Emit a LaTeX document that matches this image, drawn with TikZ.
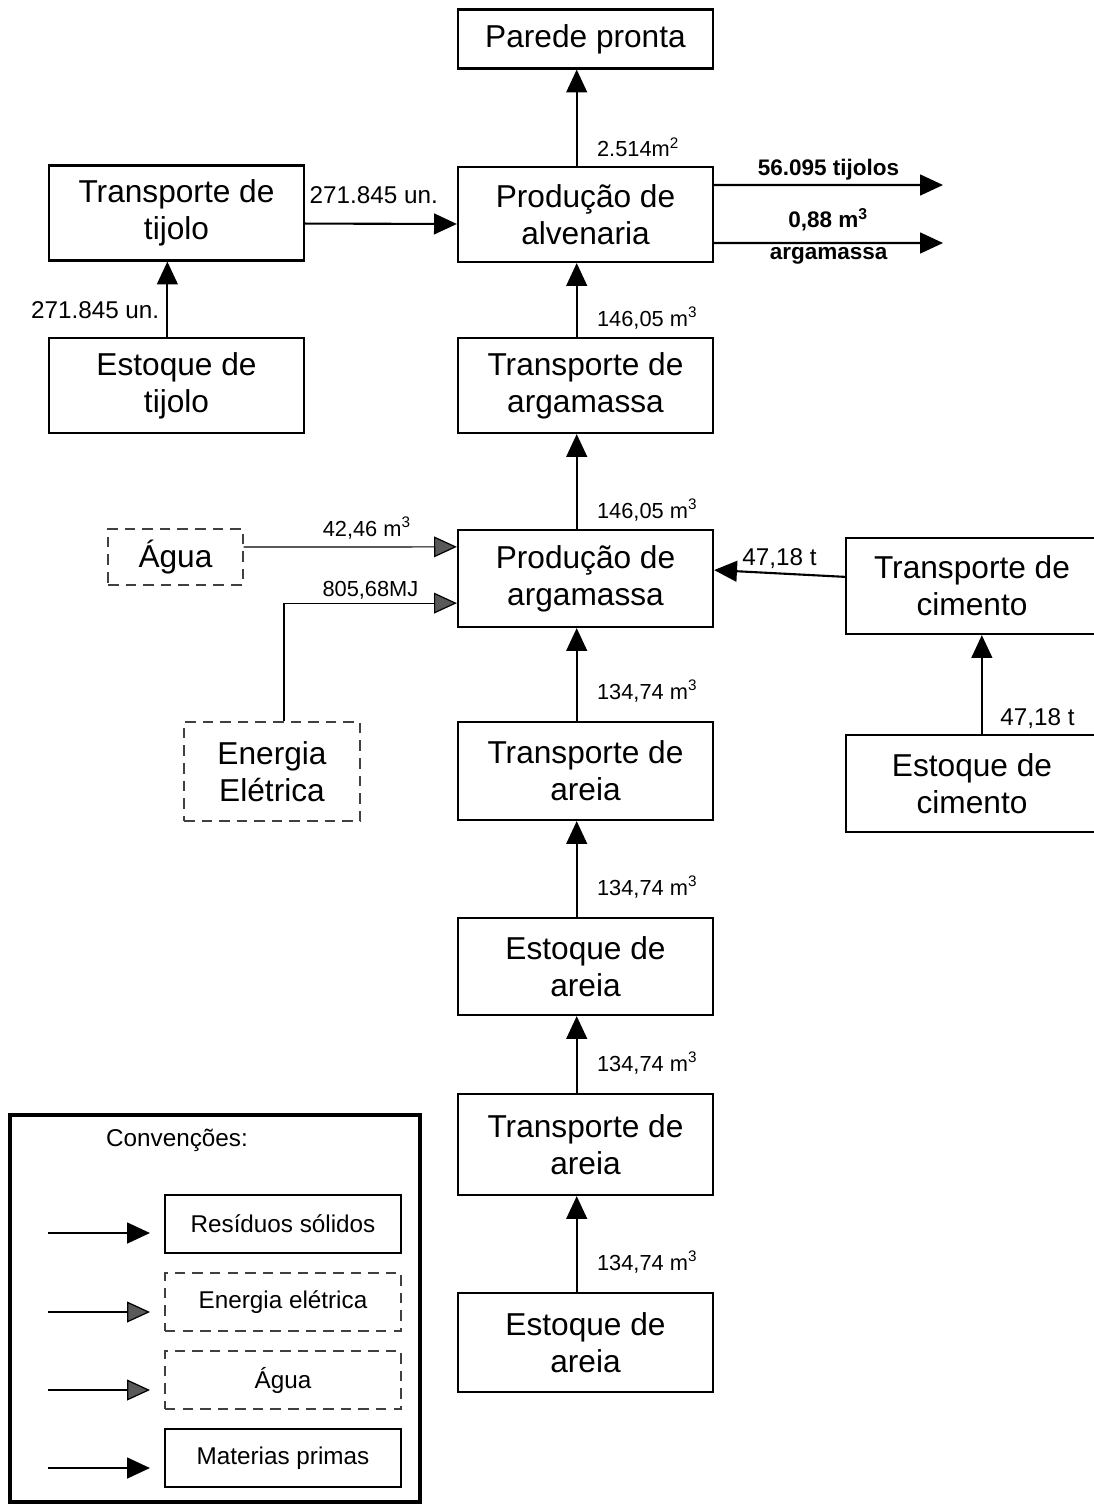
\documentclass[tikz,border=0pt]{standalone}
\usepackage{fontspec}
\setmainfont{Liberation Sans}
\usetikzlibrary{arrows.meta}

\begin{document}
\begin{tikzpicture}[x=0.01cm,y=-0.01cm,
	caixa/.style={draw,line width=0.6pt,minimum width=2.55cm,minimum height=0.95cm,inner sep=0pt,align=center,font=\fontsize{9}{10.6}\selectfont},
	tracej/.style={draw=black!75,densely dashed,line width=0.35pt},
	legcaixa/.style={draw,line width=0.6pt,minimum width=2.36cm,minimum height=0.58cm,inner sep=0pt,font=\fontsize{6.9}{8}\selectfont},
	fluxo/.style={line width=0.6pt,-{Triangle[length=6.5pt,width=5.9pt]}},
	fluxoleve/.style={line width=0.35pt,-{Triangle[length=6.5pt,width=5.9pt,fill=black!65]}},
	rotulo/.style={font=\fontsize{6.2}{7}\selectfont,inner sep=1pt},
	rotmaior/.style={font=\fontsize{6.9}{8}\selectfont,inner sep=1pt},
	rotnegrito/.style={font=\fontsize{6.4}{7}\selectfont\bfseries,inner sep=1pt}]
	\useasboundingbox (0,0) rectangle (1093,1506);
	\node[caixa,name=parede,minimum height=0.59cm] at (585.5,39) {Parede pronta};
	\node[caixa,name=trtij] at (176.5,213) {Transporte de\\tijolo};
	\node[caixa,name=alv] at (585.5,214.5) {Produção de\\alvenaria};
	\node[caixa,name=esttij] at (176.5,385.5) {Estoque de\\tijolo};
	\node[caixa,name=trarg] at (585.5,385.5) {Transporte de\\argamassa};
	\node[caixa,tracej,name=agua,minimum width=1.35cm,minimum height=0.56cm] at (175.5,557) {Água};
	\node[caixa,name=parg,minimum height=0.97cm] at (585.5,578.5) {Produção de\\argamassa};
	\node[caixa,name=trcim,minimum width=2.52cm,minimum height=0.96cm] at (972,586) {Transporte de\\cimento};
	\node[caixa,tracej,name=ener,minimum width=1.76cm,minimum height=0.99cm] at (272,771.5) {Energia\\Elétrica};
	\node[caixa,name=ta1,minimum height=0.98cm] at (585.5,771) {Transporte de\\areia};
	\node[caixa,name=ecim,minimum width=2.52cm,minimum height=0.97cm] at (972,783.5) {Estoque de\\cimento};
	\node[caixa,name=ea1,minimum height=0.97cm] at (585.5,966.5) {Estoque de\\areia};
	\node[caixa,name=ta2,minimum height=1.01cm] at (585.5,1144.5) {Transporte de\\areia};
	\node[caixa,name=ea2,minimum height=0.99cm] at (585.5,1342.5) {Estoque de\\areia};
	\coordinate (saida1) at (943,185);
	\coordinate (saida2) at (943,243);

	\draw[fluxo] ([xshift=-2.6pt]esttij.north) -- node[rotmaior,at start,anchor=south east,xshift=-1pt,yshift=4pt]{271.845 un.} ([xshift=-2.6pt]trtij.south);
	\draw[fluxo] ([yshift=-3pt]trtij.east) -- node[rotmaior,at start,anchor=south west,yshift=4.3pt]{271.845 un.} ([yshift=-2.7pt]alv.west);
	\draw[fluxo] ([xshift=-2.5pt]alv.north) -- node[rotulo,at start,anchor=south west,xshift=4.5pt,yshift=1.2pt]{2.514m\textsuperscript{2}} ([xshift=-2.5pt]parede.south);
	\draw[fluxo] ([yshift=8.4pt]alv.east) -- node[rotnegrito,above]{56.095 tijolos} (saida1);
	\draw[fluxo] ([yshift=-8.1pt]alv.east) -- node[rotnegrito,above,yshift=2pt]{0,88 m\textsuperscript{3}} node[rotnegrito,below]{argamassa} (saida2);
	\draw[fluxo] ([xshift=-2.5pt]trarg.north) -- node[rotulo,at start,anchor=south west,xshift=4.5pt,yshift=1pt]{146,05 m\textsuperscript{3}} ([xshift=-2.5pt]alv.south);
	\draw[fluxo] ([xshift=-2.5pt]parg.north) -- node[rotulo,at start,anchor=south west,xshift=4.5pt,yshift=1pt]{146,05 m\textsuperscript{3}} ([xshift=-2.5pt]trarg.south);
	\foreach \a/\b in {ea2/ta2,ta2/ea1,ea1/ta1,ta1/parg}{
		\draw[fluxo] ([xshift=-2.5pt]\a.north) -- node[rotulo,at start,anchor=south west,xshift=4.5pt,yshift=4pt]{134,74 m\textsuperscript{3}} ([xshift=-2.5pt]\b.south);
	};
	\draw[fluxoleve] ([yshift=2.85pt]agua.east) -- node[rotulo,pos=0.58,above,yshift=1pt]{42,46 m\textsuperscript{3}} ([yshift=9pt]parg.west);
	\draw[fluxoleve] ([xshift=3.4pt]ener.north) |- node[rotulo,pos=0.75,above]{805,68MJ} ([yshift=-7pt]parg.west);
	\draw[fluxo] ([yshift=2.6pt]trcim.west) -- node[rotmaior,above]{47,18 t} ([yshift=2.4pt]parg.east);
	\draw[fluxo] ([xshift=2.8pt]ecim.north) -- node[rotmaior,at start,anchor=south west,xshift=4pt,yshift=0.3pt]{47,18 t} ([xshift=2.8pt]trcim.south);

	\draw[line width=1.4pt] (10,1115) rectangle (420,1502);
	\node[font=\fontsize{6.9}{8}\selectfont,name=conv] at (177,1140) {Convenções:};
	\node[legcaixa,name=lres] at (283,1224) {Resíduos sólidos};
	\node[legcaixa,tracej,name=lene] at (283,1302) {Energia elétrica};
	\node[legcaixa,tracej,name=lagu] at (283,1380) {Água};
	\node[legcaixa,name=lmat] at (283,1458) {Materias primas};
	\foreach \n/\y in {res/1233,ene/1312,agu/1390,mat/1468}{
		\coordinate (i\n) at (48,\y);
		\coordinate (f\n) at (150,\y);
	};
	\draw[fluxo] (ires) -- (fres);
	\draw[fluxoleve] (iene) -- (fene);
	\draw[fluxoleve] (iagu) -- (fagu);
	\draw[fluxo] (imat) -- (fmat);
\end{tikzpicture}
\end{document}
